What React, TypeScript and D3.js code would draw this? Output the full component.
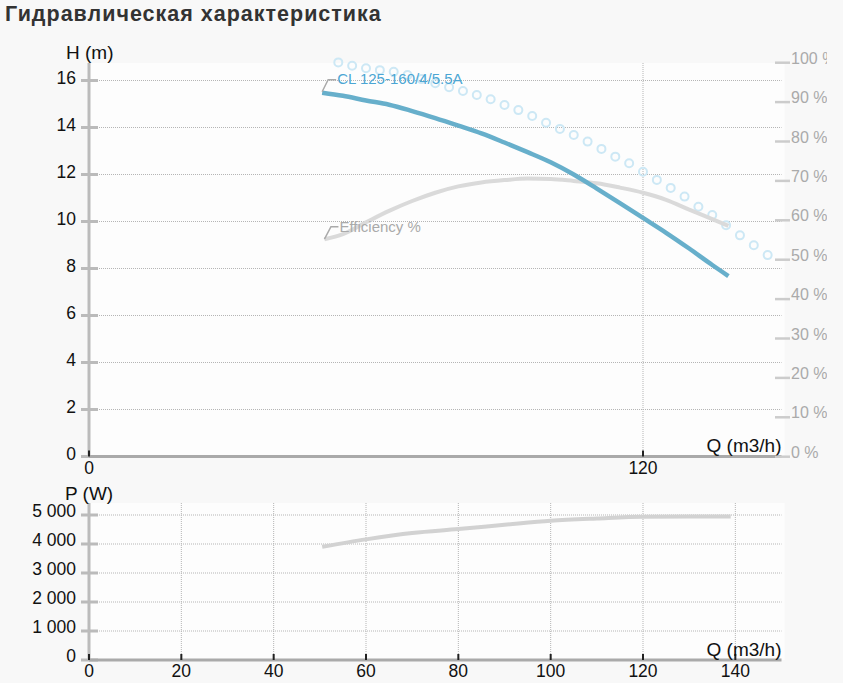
import * as d3 from 'd3'

// pump head curve H(Q)
const headQ = [50.5, 55, 60, 65, 70, 75, 80, 85, 90, 95, 100, 105, 110, 115, 120, 125, 130, 135, 138.5]
const headH = [15.48, 15.35, 15.15, 14.97, 14.7, 14.4, 14.08, 13.75, 13.36, 12.95, 12.52, 12.0, 11.4, 10.78, 10.15, 9.52, 8.85, 8.15, 7.68]

// efficiency curve (right axis, %)
const effQ = [51, 55, 60, 65, 70, 75, 80, 85, 90, 95, 100, 105, 110, 115, 120, 125, 130, 135, 138.5]
const effPct = [55.2, 56.5, 59.5, 62.4, 64.9, 67.0, 68.6, 69.6, 70.2, 70.6, 70.5, 70.0, 69.4, 68.3, 67.0, 65.2, 62.7, 60.3, 58.6]

// dotted reference curve (circles)
const dotQ = [54, 57, 60, 63, 66, 69, 72, 75, 78, 81, 84, 87, 90, 93, 96, 99, 102, 105, 108, 111, 114, 117, 120, 123, 126, 129, 132, 135, 138, 141, 144, 147]
const dotH = [16.77, 16.63, 16.52, 16.44, 16.37, 16.23, 16.06, 15.88, 15.71, 15.55, 15.38, 15.2, 14.96, 14.74, 14.49, 14.2, 13.94, 13.68, 13.4, 13.09, 12.76, 12.48, 12.12, 11.77, 11.43, 11.06, 10.63, 10.28, 9.84, 9.41, 8.99, 8.57]

// power curve P(Q)
const powerQ = [50.5, 60, 70, 80, 90, 100, 110, 120, 130, 139]
const powerW = [3905, 4160, 4380, 4515, 4660, 4800, 4880, 4940, 4945, 4945]

const headTicks = [0, 2, 4, 6, 8, 10, 12, 14, 16]
const pctTicks = [0, 10, 20, 30, 40, 50, 60, 70, 80, 90, 100]
const topQTicks = [0, 120]
const powerTicks = [0, 1000, 2000, 3000, 4000, 5000]
const bottomQTicks = [0, 20, 40, 60, 80, 100, 120, 140]

const title = 'Гидравлическая характеристика'
const pumpName = 'CL 125-160/4/5.5A'

const font = "'Liberation Sans', Arial, sans-serif"

export default function App() {
  const width = 843
  const height = 683
  const left = 89
  const right = 781.5

  const x = d3.scaleLinear([0, 150], [left, right])
  const yH = d3.scaleLinear([0, 16], [456.5, 80.5])
  const yPct = d3.scaleLinear([0, 100], [456.7, 62.7])
  const yP = d3.scaleLinear([0, 5000], [660, 515])

  const topPlot = 63
  const bottomPlot = 503

  const smooth = d3.curveMonotoneX
  const headLine = d3.line<number>((d, i) => x(headQ[i]), (d) => yH(d)).curve(smooth)
  const effLine = d3.line<number>((d, i) => x(effQ[i]), (d) => yPct(d)).curve(smooth)
  const powerLine = d3.line<number>((d, i) => x(powerQ[i]), (d) => yP(d)).curve(smooth)

  const thousands = (v: number) => d3.format(',')(v).replace(/,/g, ' ')

  const headStartX = x(headQ[0])
  const headStartY = yH(headH[0])
  const effStartX = x(effQ[0])
  const effStartY = yPct(effPct[0])

  const tickSize = 17.5
  const titleSize = 19

  return (
    <svg
      width={width}
      height={height}
      style={{ position: 'absolute', left: 0, top: 0, background: '#f8f8f8' }}
      fontFamily={font}
    >
      <defs>
        <clipPath id="pct-clip">
          <rect x={0} y={0} width={827} height={height} />
        </clipPath>
      </defs>

      <text x={5} y={21} fontSize={21.5} fontWeight="bold" fill="#333" letterSpacing={1}>
        {title}
      </text>

      {/* ---------- head / efficiency chart ---------- */}
      <rect x={left} y={topPlot} width={right - left + 3} height={yH(0) - topPlot} fill="#fdfdfd" />
      <g stroke="#b5b5b5" strokeWidth={1} strokeDasharray="1 1">
        {headTicks.filter((t) => t > 0).map((t) => (
          <line key={t} x1={left} x2={right} y1={yH(t)} y2={yH(t)} />
        ))}
        {topQTicks.filter((t) => t > 0).map((t) => (
          <line key={t} x1={x(t)} x2={x(t)} y1={topPlot} y2={yH(0)} />
        ))}
      </g>

      <line x1={left} x2={left} y1={topPlot} y2={yH(0)} stroke="#bbb" strokeWidth={3} />
      {headTicks.map((t) => (
        <g key={t}>
          <line x1={81} x2={98} y1={yH(t)} y2={yH(t)} stroke="#bbb" strokeWidth={3} />
          <text x={76} y={yH(t) + 3} textAnchor="end" fontSize={tickSize} fill="#111">
            {t}
          </text>
        </g>
      ))}
      <text x={66} y={59} fontSize={titleSize} fill="#111">H (m)</text>

      <line x1={left} x2={right} y1={yH(0)} y2={yH(0)} stroke="#aaa" strokeWidth={3} />
      {topQTicks.map((t) => (
        <g key={t}>
          <line x1={x(t)} x2={x(t)} y1={yH(0) - 6} y2={yH(0)} stroke="#222" strokeWidth={2} />
          <text x={x(t)} y={474} textAnchor="middle" fontSize={tickSize} fill="#111">
            {t}
          </text>
        </g>
      ))}
      <text x={right} y={452} textAnchor="end" fontSize={titleSize} fill="#111">Q (m3/h)</text>

      <g clipPath="url(#pct-clip)">
        {pctTicks.map((t) => (
          <g key={t}>
            <line x1={775} x2={790} y1={yPct(t)} y2={yPct(t)} stroke="#ccc" strokeWidth={2.5} />
            <text x={791} y={yPct(t) + 1} fontSize={16} fill="#aaa">
              {t} %
            </text>
          </g>
        ))}
      </g>

      <g fill="none" stroke="#cde8f5" strokeWidth={2}>
        {dotH.map((h, i) => (
          <circle key={i} cx={x(dotQ[i])} cy={yH(h)} r={4} />
        ))}
      </g>
      <path d={effLine(effPct) || undefined} fill="none" stroke="#dadada" strokeWidth={4} />
      <path d={headLine(headH) || undefined} fill="none" stroke="#67afcb" strokeWidth={4.5} />

      <path
        d={`M${headStartX},${headStartY - 1}L${headStartX + 6},${headStartY - 13}L${headStartX + 14},${headStartY - 13}`}
        fill="none"
        stroke="#aaa"
        strokeWidth={1.5}
      />
      <text x={headStartX + 15} y={headStartY - 9} fontSize={15} fill="#4ba6d4">
        {pumpName}
      </text>
      <path
        d={`M${effStartX},${effStartY}L${effStartX + 6.5},${effStartY - 12.5}L${effStartX + 14},${effStartY - 12.5}`}
        fill="none"
        stroke="#aaa"
        strokeWidth={1.5}
      />
      <text x={effStartX + 15} y={effStartY - 7.5} fontSize={15} fill="#aaa">
        Efficiency %
      </text>

      {/* ---------- power chart ---------- */}
      <rect x={left} y={bottomPlot} width={right - left + 3} height={yP(0) - bottomPlot} fill="#fdfdfd" />
      <g stroke="#b5b5b5" strokeWidth={1} strokeDasharray="1 1">
        {powerTicks.filter((t) => t > 0).map((t) => (
          <line key={t} x1={left} x2={right} y1={yP(t)} y2={yP(t)} />
        ))}
        {bottomQTicks.filter((t) => t > 0).map((t) => (
          <line key={t} x1={x(t)} x2={x(t)} y1={bottomPlot} y2={yP(0)} />
        ))}
      </g>

      <line x1={left} x2={left} y1={bottomPlot} y2={yP(0)} stroke="#bbb" strokeWidth={3} />
      {powerTicks.map((t) => (
        <g key={t}>
          <line x1={81} x2={98} y1={yP(t)} y2={yP(t)} stroke="#bbb" strokeWidth={3} />
          <text x={76} y={yP(t) + 2} textAnchor="end" fontSize={tickSize} fill="#111">
            {thousands(t)}
          </text>
        </g>
      ))}
      <text x={65} y={500} fontSize={titleSize} fill="#111">P (W)</text>

      <line x1={left} x2={right} y1={yP(0)} y2={yP(0)} stroke="#aaa" strokeWidth={3} />
      {bottomQTicks.map((t) => (
        <g key={t}>
          <line x1={x(t)} x2={x(t)} y1={yP(0) - 6} y2={yP(0)} stroke="#222" strokeWidth={2} />
          <text x={x(t)} y={677} textAnchor="middle" fontSize={tickSize} fill="#111">
            {t}
          </text>
        </g>
      ))}
      <text x={right} y={656} textAnchor="end" fontSize={titleSize} fill="#111">Q (m3/h)</text>

      <path d={powerLine(powerW) || undefined} fill="none" stroke="#d2d2d2" strokeWidth={4} />
    </svg>
  )
}
